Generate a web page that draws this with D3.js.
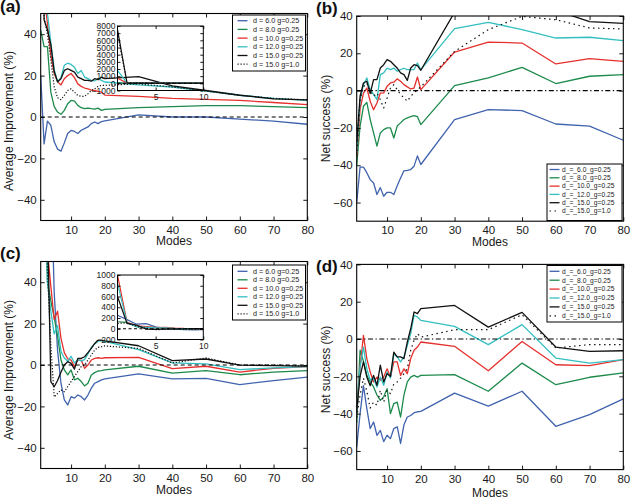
<!DOCTYPE html>
<html><head><meta charset="utf-8">
<script src="https://cdnjs.cloudflare.com/ajax/libs/d3/7.8.5/d3.min.js"></script>
<style>body{margin:0;background:#fff} svg{display:block}</style>
</head><body><svg id="c" width="632" height="497"></svg>
<script>
// ---------------- data ----------------
const modes = [1,2,3,4,5,6,7,8,9,10,11,12,13,14,15,16,17,18,19,20,30,40,50,60,70,80];
const xTicks = [10,20,30,40,50,60,70,80];
const yTicksImp = [-40,-20,0,20,40];
const yTicksNet = [-60,-40,-20,0,20,40];
const insetXTicks = [5,10];
const insetATicks = [-1000,0,1000,2000,3000,4000,5000,6000,7000,8000];
const insetCTicks = [-200,0,200,400,600,800,1000];
const labelsImp = ["d = 6.0 g=0.25","d = 8.0 g=0.25","d = 10.0 g=0.25","d = 12.0 g=0.25","d = 15.0 g=0.25","d = 15.0 g=1.0"];
const labelsNet = ["d_=_6.0_g=0.25","d_=_8.0_g=0.25","d_=_10.0_g=0.25","d_=_12.0_g=0.25","d_=_15.0_g=0.25","d_=_15.0_g=1.0"];

// panel (a): average improvement
const a_d6    = [20,-13,-2,-4,-12,-15.5,-16.5,-12.5,-8,-6.5,-7,-8,-6.4,-5.6,-4.8,-3.2,-2.4,-3.2,-2.2,-1.9,1,0,0,-1,-2,-3.5];
const a_d8    = [42,34,34,12,5,2.4,1.3,3.2,6.4,8,7.7,5.6,4.5,4,4.3,4,3.8,4.3,3.2,3.7,4.5,5,5.5,5.5,5,4.5];
const a_d10   = [700,60,45,30,21,17,15.5,18.5,20,21,19,16,14.8,14,13.6,13,12.8,12.4,12,10.6,10,9,8.5,8,7,6];
const a_d12   = [1800,60,50,36,23,17,19,25,26,25.4,24,21,22.5,19.3,18.5,17.7,17.5,18.5,17.7,16.9,15.5,14.5,12.5,10.5,9,8];
const a_d15   = [7500,47,42,35,22,17,18.5,22.5,23.3,22.5,21.7,19.3,18.5,17.7,17.7,17.3,18.5,18,19.3,18.5,19.5,15,12.8,10.5,8.8,8.3];
const a_d15g1 = [7000,48,40,28,14.5,9.3,8.4,10.4,12.8,13.6,12,10.4,10,10,11.2,12.8,13.6,14.8,15.3,15.3,16,14.5,12.5,10.5,9,8.3];

// panel (b): net success
const b_d6    = [-60,-41,-41,-44,-47.7,-49.5,-55.7,-52,-56.6,-54.5,-54.5,-55.7,-51,-46.8,-43,-42.8,-42.3,-40.5,-35,-39.6,-15.5,-10.2,-10.7,-17.9,-19,-26.6];
const b_d8    = [-40,-19,-8.4,-6.3,-15.5,-22.7,-29.8,-22.7,-20.9,-20,-20,-25.4,-19,-17.3,-15.5,-14.6,-14,-13.4,-14,-18.2,2.7,6.8,12.5,3.8,7.7,8.6];
const b_d10   = [-35,-10,-1.3,1.4,-5.7,-10.2,-6.6,-1.3,-1.2,2.3,4.1,4.5,6.3,5,3.2,2,0.9,1.4,7.3,0.5,20.7,26,25.5,14.3,17.1,15.7];
const b_d12   = [-33,-5,3.2,6.8,0.5,-2,-4.8,8.6,9.5,12.1,11.3,12.1,10.4,11.3,12,11.3,11.3,11.3,14.8,11.3,33.2,36.6,32.7,28.2,28.6,26.8];
const b_d15   = [-28,-3,4.1,5,-1.6,5.9,5.9,12.1,13.9,16.6,15.7,13.9,12.1,9.5,8.6,5.5,12.1,13.9,13.4,10.9,42,48,47,43,37,36];
const b_d15g1 = [-35,-5,2,4,0,-3,-1.3,-4.8,-9.3,-4,1.4,3.2,0.5,-2.1,-3.9,-5.7,-3,-1.2,0.5,2,21,32.7,39.8,38,33.6,33];

// panel (c): average improvement
const c_d6    = [250,170,85,95,35,7,-8.8,-16.9,-19.3,-15.3,-16,-14.5,-15.3,-16.9,-14.5,-11.2,-8.8,-8,-7.2,-6.7,-4.3,-6.7,-6.5,-9.5,-7.5,-5.9];
const c_d8    = [130,120,40,31,23,14,2.4,-2.4,-4.8,-2.4,-7.2,-6.4,-8,-10.1,-8.8,-4.8,-3.7,-2.9,-2.7,-2.4,-0.6,-3.9,-2.7,-4.7,-3.4,-2.7];
const c_d10   = [1000,120,55,38,22,26,13,6,3,2.4,-0.8,2.4,2.4,-1.6,0,2.4,3.2,3.5,3.2,3.5,3.7,-1.8,-0.6,-3.4,-1.6,-0.8];
const c_d12   = [850,110,40,26,15,19,6.6,3.4,1.8,4.2,1,2.6,2,2.6,5.3,8.6,10.2,11.5,11.8,11.4,7.4,1,0.5,-2.2,-1.4,-0.8];
const c_d15   = [600,100,70,-8,-10.5,-7.5,-3.5,0,1.6,0.8,-2,3.2,3.2,4,6,8,10.4,12,12,11.7,9.3,2.1,2.9,-0.1,-0.3,-0.5];
const c_d15g1 = [100,110,45,10,-15.5,-13.7,-12,-12.9,-10.4,-8,-5.6,-3.2,-0.8,0,2.4,4.8,7.2,8.5,8.8,9.2,8,1,3.4,0,0,-0.5];

// panel (d): net success
const d_d6    = [-58,-40,-25,-37.3,-48,-44.5,-51.6,-49,-55,-51.6,-53.4,-48,-47,-56,-46,-41.8,-41,-39.5,-39,-38.8,-29,-36,-28,-46.8,-40.5,-32.1];
const d_d8    = [-45,-6,-12,-19.5,-23,-25.7,-30,-32.9,-31,-26.6,-40,-34.6,-33.8,-41.8,-30,-23,-20.4,-19.5,-20.4,-19.5,-19.1,-28,-12.9,-24.5,-20.5,-18.2];
const d_d10   = [-40,-15,2,-10.5,-17.7,-23,-20.4,-22,-20.4,-16,-20.4,-12.3,-12.3,-19.5,-16,-18.6,-10.5,-6,-4.3,-1.6,-3.9,-17,-1.3,-13.8,-14.3,-11];
const d_d12   = [-40,-15,-4.3,-16,-22,-21,-25.7,-20.4,-24.8,-17.7,-21,-7.9,-9.6,-12.3,-9.6,-3.4,2.9,12.7,11.8,10,6.8,-3,7.7,-10.2,-12.9,-11];
const d_d15   = [-38,-20,-12.3,-20.4,-25,-19.5,-24.8,-14,-23,-18.6,-20,-7,-9.6,-9.6,-10.5,-1.6,5.5,14.5,13.6,16.3,18,6.4,14.3,-4.3,-6.6,-6.3];
const d_d15g1 = [-42,-30,-21,-28,-37,-33.8,-35.5,-27.5,-33.8,-27.5,-29.3,-24,-23,-21,-18.6,-16,-6,-0.7,2.9,1,5,5,13,-4.8,-3,-3];

// ---------------- styles ----------------
const colors = ["#4063ad","#1c8a4b","#e5302d","#33bfc0","#111111","#111111"];
const FONT = "'Liberation Sans', Arial, sans-serif";
const svg = d3.select("#c");

function styleAxis(g, size){
  g.attr("font-family", FONT).attr("font-size", size);
  g.selectAll(".domain").remove();
  g.selectAll(".tick line").attr("stroke","#000").attr("stroke-width",0.9);
  g.selectAll(".tick text").attr("fill","#1a1a1a");
}

function drawPanel(cfg){
  const g = svg.append("g");
  const x = d3.scaleLinear().domain([1,80]).range([cfg.left, cfg.right]);
  const y = d3.scaleLinear().domain(cfg.yDomain).range([cfg.bottom, cfg.top]);
  const clipId = "clip" + cfg.id;
  svg.append("clipPath").attr("id", clipId).append("rect")
    .attr("x", cfg.left).attr("y", cfg.top)
    .attr("width", cfg.right - cfg.left).attr("height", cfg.bottom - cfg.top);

  const line = d3.line().x((d,i)=>x(modes[i])).y(d=>y(d));
  const lg = g.append("g").attr("clip-path", `url(#${clipId})`);
  cfg.series.forEach((s,k)=>{
    lg.append("path").attr("d", line(s)).attr("fill","none")
      .attr("stroke", colors[k]).attr("stroke-width", k===5 ? 1.2 : 1.3)
      .attr("stroke-linejoin","round")
      .attr("stroke-dasharray", k===5 ? cfg.dotDash : null);
  });
  lg.append("line").attr("x1", cfg.left).attr("x2", cfg.right)
    .attr("y1", y(0)).attr("y2", y(0)).attr("stroke","#000")
    .attr("stroke-width", 1.1).attr("stroke-dasharray", cfg.zeroDash);

  // inset
  if (cfg.inset){
    const I = cfg.inset;
    const ix = d3.scaleLinear().domain([1,10]).range([I.left, I.right]);
    const iy = d3.scaleLinear().domain(I.yDomain).range([I.bottom, I.top]);
    const icid = "iclip" + cfg.id;
    svg.append("clipPath").attr("id", icid).append("rect")
      .attr("x", I.left).attr("y", I.top).attr("width", I.right - I.left).attr("height", I.bottom - I.top);
    const ig = g.append("g").attr("clip-path", `url(#${icid})`);
    const il = d3.line().x((d,i)=>ix(modes[i])).y(d=>iy(d));
    cfg.series.forEach((s,k)=>{
      ig.append("path").attr("d", il(s.slice(0,10))).attr("fill","none")
        .attr("stroke", colors[k]).attr("stroke-width", 1.2)
        .attr("stroke-dasharray", k===5 ? cfg.dotDash : null);
    });
    ig.append("line").attr("x1", I.left).attr("x2", I.right)
      .attr("y1", iy(0)).attr("y2", iy(0)).attr("stroke","#000")
      .attr("stroke-width", 1).attr("stroke-dasharray", "3,2.5");
    const ia = [
      g.append("g").attr("transform",`translate(0,${I.bottom})`).call(d3.axisBottom(ix).tickValues(insetXTicks).tickSizeInner(-3).tickSizeOuter(0).tickPadding(3)),
      g.append("g").attr("transform",`translate(0,${I.top})`).call(d3.axisTop(ix).tickValues(insetXTicks).tickSizeInner(-3).tickSizeOuter(0).tickFormat("")),
      g.append("g").attr("transform",`translate(${I.left},0)`).call(d3.axisLeft(iy).tickValues(I.yTicks).tickSizeInner(-3).tickSizeOuter(0).tickPadding(2).tickFormat(d3.format("d"))),
      g.append("g").attr("transform",`translate(${I.right},0)`).call(d3.axisRight(iy).tickValues(I.yTicks).tickSizeInner(-3).tickSizeOuter(0).tickFormat(""))
    ];
    ia.forEach(a=>styleAxis(a, 8.5));
    g.append("rect").attr("x", I.left).attr("y", I.top)
      .attr("width", I.right - I.left).attr("height", I.bottom - I.top)
      .attr("fill","none").attr("stroke","#000").attr("stroke-width",1);
  }

  // axes
  const axes = [
    g.append("g").attr("transform",`translate(0,${cfg.bottom})`).call(d3.axisBottom(x).tickValues(xTicks).tickSizeInner(-4).tickSizeOuter(0).tickPadding(5)),
    g.append("g").attr("transform",`translate(0,${cfg.top})`).call(d3.axisTop(x).tickValues(xTicks).tickSizeInner(-4).tickSizeOuter(0).tickFormat("")),
    g.append("g").attr("transform",`translate(${cfg.left},0)`).call(d3.axisLeft(y).tickValues(cfg.yTicks).tickSizeInner(-4).tickSizeOuter(0).tickPadding(4)),
    g.append("g").attr("transform",`translate(${cfg.right},0)`).call(d3.axisRight(y).tickValues(cfg.yTicks).tickSizeInner(-4).tickSizeOuter(0).tickFormat(""))
  ];
  axes.forEach(a=>styleAxis(a, 11.5));
  g.append("rect").attr("x", cfg.left).attr("y", cfg.top)
    .attr("width", cfg.right - cfg.left).attr("height", cfg.bottom - cfg.top)
    .attr("fill","none").attr("stroke","#000").attr("stroke-width",1.1);

  // labels
  g.append("text").attr("x", (cfg.left+cfg.right)/2).attr("y", cfg.xlabelY)
    .attr("text-anchor","middle").attr("dy","0.35em")
    .attr("font-family", FONT).attr("font-size", 12).attr("fill","#1a1a1a").text("Modes");
  g.append("text").attr("transform",`translate(${cfg.ylabelX},${cfg.ylabelY}) rotate(-90)`)
    .attr("text-anchor","middle").attr("dy","0.35em")
    .attr("font-family", FONT).attr("font-size", 12).attr("fill","#1a1a1a").text(cfg.ylabel);
  g.append("text").attr("x", cfg.tagX).attr("y", cfg.tagY)
    .attr("font-family", FONT).attr("font-size", 17).attr("font-weight","bold").attr("fill","#111").text(cfg.tag);

  // legend
  const L = cfg.legend;
  const leg = g.append("g");
  leg.append("rect").attr("x", L.x).attr("y", L.y).attr("width", L.w).attr("height", L.h)
    .attr("fill","#fff").attr("stroke","#000").attr("stroke-width",1);
  cfg.labels.forEach((t,k)=>{
    const ry = L.row0 + k*L.dy;
    leg.append("line").attr("x1", L.lx1).attr("x2", L.lx2).attr("y1", ry).attr("y2", ry)
      .attr("stroke", colors[k]).attr("stroke-width", k===5 ? 1.2 : 1.3)
      .attr("stroke-dasharray", k===5 ? cfg.dotDash : null);
    leg.append("text").attr("x", L.tx).attr("y", ry).attr("dy","0.35em")
      .attr("font-family", FONT).attr("font-size", L.fs).attr("fill","#1a1a1a").text(t);
  });
}

drawPanel({id:"a", left:40.7, right:307.3, top:13.5, bottom:220.5, yDomain:[-50,50], yTicks:yTicksImp,
  series:[a_d6,a_d8,a_d10,a_d12,a_d15,a_d15g1], labels:labelsImp, zeroDash:"4,3", dotDash:"1.2,1.8",
  xlabelY:240.7, ylabelX:8.5, ylabelY:121, ylabel:"Average Improvement (%)", tag:"(a)", tagX:0, tagY:11.5,
  legend:{x:232.5, y:15, w:73, h:56, row0:20.7, dy:8.7, lx1:237.5, lx2:247.5, tx:253, fs:7.2},
  inset:{left:117.5, right:203.3, top:26, bottom:90.5, yDomain:[-1000,8000], yTicks:insetATicks}});

drawPanel({id:"b", left:356.7, right:623.3, top:16, bottom:221.2, yDomain:[-70,40], yTicks:yTicksNet,
  series:[b_d6,b_d8,b_d10,b_d12,b_d15,b_d15g1], labels:labelsNet, zeroDash:"5,2.5,1.3,2.5", dotDash:"1.5,3.5",
  xlabelY:241.7, ylabelX:326, ylabelY:118.5, ylabel:"Net success (%)", tag:"(b)", tagX:316, tagY:13.5,
  legend:{x:547, y:164, w:75, h:56.5, row0:169.5, dy:8.3, lx1:549.5, lx2:559.5, tx:562, fs:6.7}});

drawPanel({id:"c", left:40.7, right:307.3, top:261.5, bottom:468.5, yDomain:[-50,50], yTicks:yTicksImp,
  series:[c_d6,c_d8,c_d10,c_d12,c_d15,c_d15g1], labels:labelsImp, zeroDash:"4,3", dotDash:"1.2,1.8",
  xlabelY:489.5, ylabelX:8.5, ylabelY:370, ylabel:"Average Improvement (%)", tag:"(c)", tagX:0, tagY:258.5,
  legend:{x:232.5, y:265, w:73, h:55, row0:271.3, dy:8.5, lx1:237.5, lx2:247.5, tx:253, fs:7.2},
  inset:{left:117.5, right:203.3, top:275, bottom:339.5, yDomain:[-200,1000], yTicks:insetCTicks}});

drawPanel({id:"d", left:356.7, right:623.3, top:264.4, bottom:469.6, yDomain:[-70,40], yTicks:yTicksNet,
  series:[d_d6,d_d8,d_d10,d_d12,d_d15,d_d15g1], labels:labelsNet, zeroDash:"5,2.5,1.3,2.5", dotDash:"1.5,3.5",
  xlabelY:493, ylabelX:326, ylabelY:369.5, ylabel:"Net success (%)", tag:"(d)", tagX:316, tagY:271.5,
  legend:{x:547, y:265.5, w:75, h:56.5, row0:271.3, dy:8.9, lx1:549.5, lx2:559.5, tx:562, fs:6.7}});
</script></body></html>
